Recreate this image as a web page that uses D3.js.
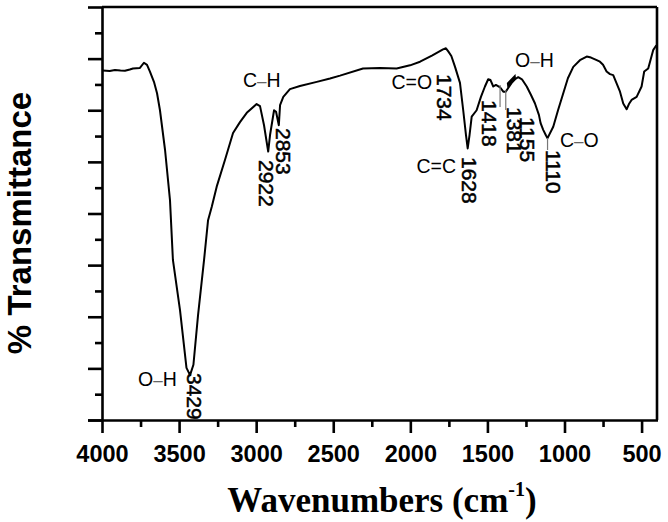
<!DOCTYPE html>
<html>
<head>
<meta charset="utf-8">
<script src="https://cdn.jsdelivr.net/npm/d3@7/dist/d3.min.js"></script>
<style>
  html, body { margin: 0; padding: 0; background: #fff; }
  svg { display: block; }
  text { font-family: "Liberation Sans", Arial, sans-serif; }
</style>
</head>
<body>
<svg id="chart" width="668" height="522"></svg>
<script>
// ---- data ----
const wavenumbers = [3995, 3950, 3916, 3880, 3851, 3820, 3799, 3754, 3728, 3708, 3689, 3663, 3643, 3624,
  3591, 3559, 3540, 3494, 3452, 3429, 3407, 3377, 3338, 3312, 3288, 3256, 3202, 3150, 3105, 3061,
  2997, 2975, 2949, 2922, 2910, 2884, 2871, 2853, 2845, 2824, 2781, 2716, 2607, 2521, 2456,
  2307, 2197, 2089, 2002, 1937, 1860, 1788, 1769, 1754, 1734, 1710, 1678, 1657, 1639, 1628,
  1616, 1602, 1570, 1542, 1516, 1495, 1480, 1462, 1445, 1418, 1397, 1381, 1365, 1343, 1321,
  1300, 1276, 1245, 1218, 1192, 1166, 1155, 1138, 1120, 1110, 1073, 1042, 1008, 978, 943,
  900, 856, 828, 791, 770, 750, 727, 705, 684, 662, 640, 619, 597, 582, 565, 532, 500,
  483, 457, 424, 404];
const transmittance = [6.77, 6.76, 6.78, 6.77, 6.765, 6.79, 6.81, 6.82, 6.92, 6.88, 6.75, 6.55, 6.33, 6.00,
  5.23, 4.26, 3.10, 2.13, 1.01, 0.87, 1.07, 2.03, 3.10, 3.87, 4.13, 4.52, 5.04, 5.56, 5.77, 5.95,
  6.12, 6.08, 5.71, 5.20, 5.52, 6.00, 5.97, 5.71, 6.10, 6.26, 6.41, 6.47, 6.55, 6.615, 6.67,
  6.81, 6.82, 6.81, 6.87, 6.94, 7.06, 7.18, 7.20, 7.14, 7.05, 6.84, 6.53, 6.00, 5.52, 5.26,
  5.52, 5.875, 6.00, 6.26, 6.46, 6.60, 6.585, 6.46, 6.49, 6.445, 6.36, 6.36, 6.43, 6.53, 6.60,
  6.64, 6.60, 6.46, 6.30, 6.135, 5.91, 5.75, 5.62, 5.51, 5.46, 5.68, 6.00, 6.33, 6.62, 6.84,
  6.97, 7.04, 7.02, 6.97, 6.94, 6.88, 6.75, 6.70, 6.68, 6.52, 6.36, 6.13, 6.02, 6.12, 6.20, 6.26, 6.46,
  6.75, 6.81, 7.17, 7.26];

const xTickValues = [4000, 3500, 3000, 2500, 2000, 1500, 1000, 500];
const xMinorTicks = [3750, 3250, 2750, 2250, 1750, 1250, 750];
const yMajorTicks = [0, 1, 2, 3, 4, 5, 6, 7, 8];
const yMinorTicks = [0.5, 1.5, 2.5, 3.5, 4.5, 5.5, 6.5, 7.5];

const peakLabels = ["3429", "2922", "2853", "1734", "1628", "1418", "1381", "1155", "1110"];
const peakWaves  = [3429, 2922, 2853, 1734, 1628, 1418, 1381, 1155, 1110];
const bondAtoms  = [["O", "H"], ["C", "H"], ["C", "O"], ["C", "C"], ["O", "H"], ["C", "O"]];
const bondSigns  = ["\u2013", "\u2013", "=", "=", "\u2013", "\u2013"];

const xTitle = "Wavenumbers (cm";
const yTitle = "% Transmittance";

// ---- layout ----
const svg = d3.select("#chart");
const L = 102, R = 657, T = 7, B = 420;
const x = d3.scaleLinear().domain([4000, 400]).range([L, R]);
const y = d3.scaleLinear().domain([0, 8]).range([B, T]);

// frame lines (top & right)
svg.append("line").attr("x1", L).attr("x2", R).attr("y1", T).attr("y2", T)
  .attr("stroke", "#000").attr("stroke-width", 2.6);
svg.append("line").attr("x1", R).attr("x2", R).attr("y1", T).attr("y2", B)
  .attr("stroke", "#000").attr("stroke-width", 2.6);

// x axis
const gx = svg.append("g").attr("transform", `translate(0,${B})`)
  .call(d3.axisBottom(x).tickValues(xTickValues).tickSize(13).tickSizeOuter(0).tickFormat(d3.format("d")));
gx.select(".domain").attr("stroke-width", 2.6).attr("d", `M${L-14},0.5H${R+1}`);
gx.selectAll(".tick line").attr("stroke-width", 2.6);
gx.selectAll(".tick text").attr("y", 42).attr("dy", 0)
  .style("font-family", "'Liberation Sans', Arial, sans-serif")
  .style("font-size", "23.5px").style("font-weight", "bold").attr("fill", "#000");
const gxm = svg.append("g").attr("transform", `translate(0,${B})`)
  .call(d3.axisBottom(x).tickValues(xMinorTicks).tickSize(7).tickFormat(""));
gxm.select(".domain").remove();
gxm.selectAll(".tick line").attr("stroke-width", 2.6);

// y axis
const gy = svg.append("g").attr("transform", `translate(${L},0)`)
  .call(d3.axisLeft(y).tickValues(yMajorTicks).tickSize(14).tickSizeOuter(0).tickFormat(""));
gy.select(".domain").attr("stroke-width", 2.6).attr("d", `M0.5,${B}V${T}`);
gy.selectAll(".tick line").attr("stroke-width", 2.6);
const gym = svg.append("g").attr("transform", `translate(${L},0)`)
  .call(d3.axisLeft(y).tickValues(yMinorTicks).tickSize(7).tickFormat(""));
gym.select(".domain").remove();
gym.selectAll(".tick line").attr("stroke-width", 2.6);

// spectrum
const data = wavenumbers.map((w, i) => ({ w, t: transmittance[i] }));
svg.append("path").datum(data)
  .attr("fill", "none").attr("stroke", "#000").attr("stroke-width", 2).attr("stroke-linejoin", "round")
  .attr("d", d3.line().x(d => x(d.w)).y(d => y(d.t)));

// peak labels (rotated)
const peakLayout = [
  { dx: -3, py: 373 }, { dx: -9, py: 160 }, { dx: -3, py: 128 }, { dx: -14, py: 74 },
  { dx: -6, py: 157 }, { dx: -18, py: 100 }, { dx: 1, py: 107 }, { dx: -20.5, py: 117 }, { dx: -1.5, py: 150 }
];
peakLabels.forEach((lab, i) => {
  const ax = x(peakWaves[i]) + peakLayout[i].dx, ay = peakLayout[i].py;
  svg.append("text").attr("transform", `translate(${ax},${ay}) rotate(90)`)
    .attr("font-size", 21).attr("fill", "#000")
    .attr("stroke", "#000").attr("stroke-width", 0.5).text(lab);
});

// leader lines
[[1418, 85, 107], [1381, 90, 110], [1110, 138, 150]].forEach(([w, y1, y2]) => {
  svg.append("line").attr("x1", x(w)).attr("x2", x(w)).attr("y1", y1).attr("y2", y2)
    .attr("stroke", "#777").attr("stroke-width", 1.2);
});
// wedge pointer towards O-H
svg.append("path")
  .attr("d", `M${x(1370)},${88} L${x(1374)},${83} L${x(1318)},${74} L${x(1314)},${79} Z`)
  .attr("fill", "#000");

// bond labels
const bondLayout = [
  { px: 138, py: 386 }, { px: 243, py: 87 }, { px: 391.5, py: 89 },
  { px: 416.5, py: 173 }, { px: 515, py: 67 }, { px: 560, py: 147 }
];
bondAtoms.forEach((atoms, i) => {
  const t = svg.append("text").attr("x", bondLayout[i].px).attr("y", bondLayout[i].py)
    .attr("font-size", 19.5).attr("fill", "#000");
  t.append("tspan").text(atoms[0]);
  const isSingle = bondSigns[i] === "\u2013";
  t.append("tspan").attr("fill", isSingle ? "#666" : "#000")
    .attr("font-size", isSingle ? 17 : 19.5).text(bondSigns[i]);
  t.append("tspan").attr("font-size", 19.5).text(atoms[1]);
});

// axis titles
svg.append("text").attr("transform", "translate(31,223) rotate(-90)")
  .attr("text-anchor", "middle").attr("font-size", 33).attr("font-weight", "bold")
  .attr("fill", "#000").text(yTitle);

const xt = svg.append("text").attr("x", 382).attr("y", 512).attr("text-anchor", "middle")
  .style("font-family", "'Liberation Serif', 'Times New Roman', serif")
  .attr("font-size", 35).attr("font-weight", "bold").attr("fill", "#000");
xt.append("tspan").text(xTitle);
xt.append("tspan").attr("font-size", 20).attr("dy", -16).text("-1");
xt.append("tspan").attr("dy", 16).text(")");
</script>
</body>
</html>
